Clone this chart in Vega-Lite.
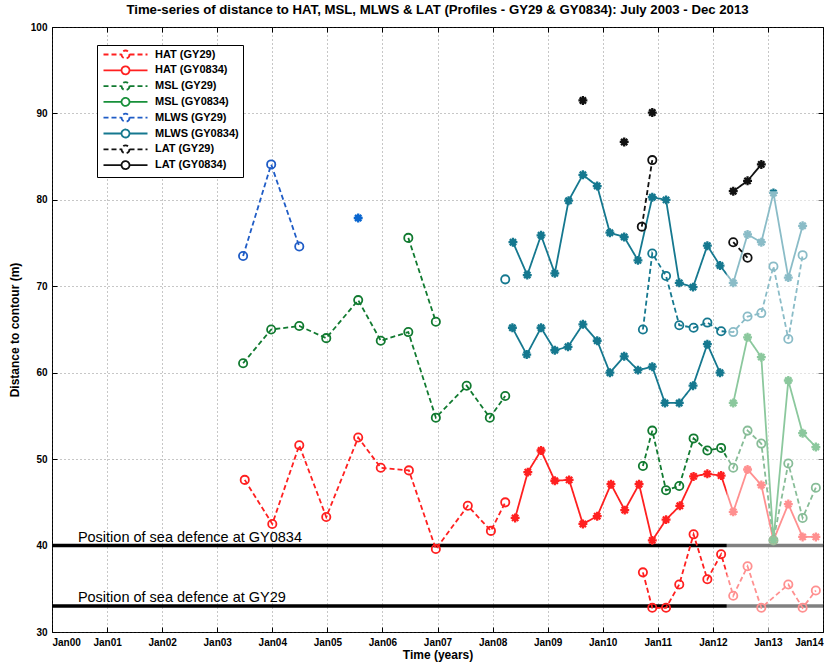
{
  "$schema": "https://vega.github.io/schema/vega-lite/v6.json",
  "width": 771,
  "height": 605,
  "autosize": {"type": "none"},
  "padding": {"left": 52, "top": 27, "right": 14, "bottom": 36},
  "background": "white",
  "title": {
    "text": "Time-series of distance to HAT, MSL, MLWS & LAT (Profiles - GY29 & GY0834): July 2003 - Dec 2013",
    "font": "Liberation Sans", "fontSize": 13.2, "fontWeight": "bold", "color": "black", "offset": 5, "anchor": "middle"
  },
  "config": {
    "view": {"stroke": "black", "strokeWidth": 1},
    "axis": {
      "domain": false, "grid": true, "gridColor": "#444", "gridDash": [1, 3], "gridOpacity": 0.6,
      "tickColor": "black", "tickSize": -5, "labelPadding": 10,
      "labelFont": "Liberation Sans", "labelFontWeight": "bold", "labelFontSize": 10, "labelColor": "black",
      "titleFont": "Liberation Sans", "titleFontWeight": "bold", "titleFontSize": 12, "titleColor": "black"
    },
    "legend": {
      "orient": "none", "legendX": 45, "legendY": 18,
      "fillColor": "white", "strokeColor": "black", "padding": 4,
      "labelFont": "Liberation Sans", "labelFontWeight": "bold", "labelFontSize": 11, "labelColor": "black",
      "rowPadding": -1.2, "symbolSize": 64, "symbolStrokeWidth": 1.8, "symbolOffset": 19, "labelOffset": 24,
      "symbolType": "M-5.5,0L-1,0M1,0L5.5,0M1,0A1,1,0,1,1,-1,0A1,1,0,1,1,1,0"
    }
  },
  "resolve": {"axis": {"x": "independent", "y": "independent"}},
  "datasets": {
    "marks": [
    {"series":"HAT (GY29)","seg":"a","year":2003.5,"value":47.6},
    {"series":"HAT (GY29)","seg":"a","year":2004.0,"value":42.5},
    {"series":"HAT (GY29)","seg":"a","year":2004.49,"value":51.6},
    {"series":"HAT (GY29)","seg":"a","year":2004.98,"value":43.3},
    {"series":"HAT (GY29)","seg":"a","year":2005.56,"value":52.5},
    {"series":"HAT (GY29)","seg":"a","year":2005.97,"value":49.0},
    {"series":"HAT (GY29)","seg":"a","year":2006.48,"value":48.7},
    {"series":"HAT (GY29)","seg":"a","year":2006.97,"value":39.6},
    {"series":"HAT (GY29)","seg":"a","year":2007.55,"value":44.6},
    {"series":"HAT (GY29)","seg":"a","year":2007.97,"value":41.7},
    {"series":"HAT (GY29)","seg":"a","year":2008.23,"value":45.0},
    {"series":"HAT (GY29)","seg":"b","year":2010.73,"value":36.9},
    {"series":"HAT (GY29)","seg":"b","year":2010.9,"value":32.8},
    {"series":"HAT (GY29)","seg":"b","year":2011.15,"value":32.8},
    {"series":"HAT (GY29)","seg":"b","year":2011.39,"value":35.5},
    {"series":"HAT (GY29)","seg":"b","year":2011.65,"value":41.3},
    {"series":"HAT (GY29)","seg":"b","year":2011.9,"value":36.1},
    {"series":"HAT (GY29)","seg":"b","year":2012.15,"value":39.0},
    {"series":"HAT (GY29)","seg":"b","year":2012.37,"value":34.2},
    {"series":"HAT (GY29)","seg":"b","year":2012.63,"value":37.6},
    {"series":"HAT (GY29)","seg":"b","year":2012.88,"value":32.8},
    {"series":"HAT (GY29)","seg":"b","year":2013.37,"value":35.5},
    {"series":"HAT (GY29)","seg":"b","year":2013.63,"value":32.8},
    {"series":"HAT (GY29)","seg":"b","year":2013.87,"value":34.8},
    {"series":"HAT (GY0834)","seg":"a","year":2008.41,"value":43.2},
    {"series":"HAT (GY0834)","seg":"a","year":2008.64,"value":48.5},
    {"series":"HAT (GY0834)","seg":"a","year":2008.88,"value":51.0},
    {"series":"HAT (GY0834)","seg":"a","year":2009.13,"value":47.5},
    {"series":"HAT (GY0834)","seg":"a","year":2009.39,"value":47.6},
    {"series":"HAT (GY0834)","seg":"a","year":2009.64,"value":42.5},
    {"series":"HAT (GY0834)","seg":"a","year":2009.9,"value":43.4},
    {"series":"HAT (GY0834)","seg":"a","year":2010.15,"value":47.1},
    {"series":"HAT (GY0834)","seg":"a","year":2010.4,"value":44.1},
    {"series":"HAT (GY0834)","seg":"a","year":2010.66,"value":47.1},
    {"series":"HAT (GY0834)","seg":"a","year":2010.9,"value":40.6},
    {"series":"HAT (GY0834)","seg":"a","year":2011.15,"value":43.0},
    {"series":"HAT (GY0834)","seg":"a","year":2011.4,"value":44.6},
    {"series":"HAT (GY0834)","seg":"a","year":2011.65,"value":48.0},
    {"series":"HAT (GY0834)","seg":"a","year":2011.9,"value":48.3},
    {"series":"HAT (GY0834)","seg":"a","year":2012.15,"value":48.1},
    {"series":"HAT (GY0834)","seg":"a","year":2012.37,"value":43.9},
    {"series":"HAT (GY0834)","seg":"a","year":2012.63,"value":48.8},
    {"series":"HAT (GY0834)","seg":"a","year":2012.88,"value":47.0},
    {"series":"HAT (GY0834)","seg":"a","year":2013.1,"value":40.6},
    {"series":"HAT (GY0834)","seg":"a","year":2013.37,"value":44.8},
    {"series":"HAT (GY0834)","seg":"a","year":2013.63,"value":41.0},
    {"series":"HAT (GY0834)","seg":"a","year":2013.87,"value":41.0},
    {"series":"MSL (GY29)","seg":"a","year":2003.47,"value":61.1},
    {"series":"MSL (GY29)","seg":"a","year":2003.98,"value":65.0},
    {"series":"MSL (GY29)","seg":"a","year":2004.49,"value":65.4},
    {"series":"MSL (GY29)","seg":"a","year":2004.98,"value":64.0},
    {"series":"MSL (GY29)","seg":"a","year":2005.56,"value":68.4},
    {"series":"MSL (GY29)","seg":"a","year":2005.97,"value":63.7},
    {"series":"MSL (GY29)","seg":"a","year":2006.47,"value":64.7},
    {"series":"MSL (GY29)","seg":"a","year":2006.97,"value":54.8},
    {"series":"MSL (GY29)","seg":"a","year":2007.53,"value":58.5},
    {"series":"MSL (GY29)","seg":"a","year":2007.95,"value":54.8},
    {"series":"MSL (GY29)","seg":"a","year":2008.23,"value":57.3},
    {"series":"MSL (GY29)","seg":"b","year":2006.47,"value":75.6},
    {"series":"MSL (GY29)","seg":"b","year":2006.97,"value":65.9},
    {"series":"MSL (GY29)","seg":"c","year":2010.73,"value":49.2},
    {"series":"MSL (GY29)","seg":"c","year":2010.9,"value":53.3},
    {"series":"MSL (GY29)","seg":"c","year":2011.15,"value":46.4},
    {"series":"MSL (GY29)","seg":"c","year":2011.39,"value":46.9},
    {"series":"MSL (GY29)","seg":"c","year":2011.65,"value":52.4},
    {"series":"MSL (GY29)","seg":"c","year":2011.9,"value":51.0},
    {"series":"MSL (GY29)","seg":"c","year":2012.15,"value":51.3},
    {"series":"MSL (GY29)","seg":"c","year":2012.37,"value":49.0},
    {"series":"MSL (GY29)","seg":"c","year":2012.63,"value":53.3},
    {"series":"MSL (GY29)","seg":"c","year":2012.88,"value":51.8},
    {"series":"MSL (GY29)","seg":"c","year":2013.1,"value":40.6},
    {"series":"MSL (GY29)","seg":"c","year":2013.37,"value":49.5},
    {"series":"MSL (GY29)","seg":"c","year":2013.63,"value":43.2},
    {"series":"MSL (GY29)","seg":"c","year":2013.87,"value":46.7},
    {"series":"MSL (GY0834)","seg":"a","year":2012.37,"value":56.5},
    {"series":"MSL (GY0834)","seg":"a","year":2012.63,"value":64.1},
    {"series":"MSL (GY0834)","seg":"a","year":2012.88,"value":61.8},
    {"series":"MSL (GY0834)","seg":"a","year":2013.1,"value":40.6},
    {"series":"MSL (GY0834)","seg":"a","year":2013.37,"value":59.1},
    {"series":"MSL (GY0834)","seg":"a","year":2013.63,"value":53.0},
    {"series":"MSL (GY0834)","seg":"a","year":2013.87,"value":51.4},
    {"series":"MLWS (GY29)","seg":"a","year":2003.47,"value":73.5},
    {"series":"MLWS (GY29)","seg":"a","year":2003.98,"value":84.1},
    {"series":"MLWS (GY29)","seg":"a","year":2004.49,"value":74.6},
    {"series":"MLWS (GY29)","seg":"l","year":2008.23,"value":70.8},
    {"series":"MLWS (GY29)","seg":"b","year":2010.73,"value":65.0},
    {"series":"MLWS (GY29)","seg":"b","year":2010.9,"value":73.8},
    {"series":"MLWS (GY29)","seg":"b","year":2011.15,"value":71.2},
    {"series":"MLWS (GY29)","seg":"b","year":2011.39,"value":65.5},
    {"series":"MLWS (GY29)","seg":"b","year":2011.65,"value":65.2},
    {"series":"MLWS (GY29)","seg":"b","year":2011.9,"value":65.8},
    {"series":"MLWS (GY29)","seg":"b","year":2012.15,"value":64.8},
    {"series":"MLWS (GY29)","seg":"b","year":2012.37,"value":64.7},
    {"series":"MLWS (GY29)","seg":"b","year":2012.63,"value":66.5},
    {"series":"MLWS (GY29)","seg":"b","year":2012.88,"value":66.9},
    {"series":"MLWS (GY29)","seg":"b","year":2013.1,"value":72.3},
    {"series":"MLWS (GY29)","seg":"b","year":2013.37,"value":63.9},
    {"series":"MLWS (GY29)","seg":"b","year":2013.63,"value":73.6},
    {"series":"MLWS (GY0834)","seg":"l","year":2005.56,"value":77.9},
    {"series":"MLWS (GY0834)","seg":"b","year":2008.37,"value":75.1},
    {"series":"MLWS (GY0834)","seg":"b","year":2008.63,"value":71.3},
    {"series":"MLWS (GY0834)","seg":"b","year":2008.88,"value":75.9},
    {"series":"MLWS (GY0834)","seg":"b","year":2009.13,"value":71.5},
    {"series":"MLWS (GY0834)","seg":"b","year":2009.38,"value":79.9},
    {"series":"MLWS (GY0834)","seg":"b","year":2009.64,"value":82.9},
    {"series":"MLWS (GY0834)","seg":"b","year":2009.9,"value":81.6},
    {"series":"MLWS (GY0834)","seg":"b","year":2010.13,"value":76.2},
    {"series":"MLWS (GY0834)","seg":"b","year":2010.39,"value":75.7},
    {"series":"MLWS (GY0834)","seg":"b","year":2010.64,"value":73.0},
    {"series":"MLWS (GY0834)","seg":"b","year":2010.9,"value":80.3},
    {"series":"MLWS (GY0834)","seg":"b","year":2011.15,"value":80.0},
    {"series":"MLWS (GY0834)","seg":"b","year":2011.39,"value":70.4},
    {"series":"MLWS (GY0834)","seg":"b","year":2011.64,"value":69.9},
    {"series":"MLWS (GY0834)","seg":"b","year":2011.9,"value":74.7},
    {"series":"MLWS (GY0834)","seg":"b","year":2012.13,"value":72.4},
    {"series":"MLWS (GY0834)","seg":"b","year":2012.37,"value":70.4},
    {"series":"MLWS (GY0834)","seg":"b","year":2012.63,"value":76.0},
    {"series":"MLWS (GY0834)","seg":"b","year":2012.88,"value":75.1},
    {"series":"MLWS (GY0834)","seg":"b","year":2013.1,"value":80.8},
    {"series":"MLWS (GY0834)","seg":"b","year":2013.37,"value":71.0},
    {"series":"MLWS (GY0834)","seg":"b","year":2013.63,"value":77.0},
    {"series":"MLWS (GY0834)","seg":"c","year":2008.36,"value":65.2},
    {"series":"MLWS (GY0834)","seg":"c","year":2008.62,"value":62.1},
    {"series":"MLWS (GY0834)","seg":"c","year":2008.88,"value":65.2},
    {"series":"MLWS (GY0834)","seg":"c","year":2009.13,"value":62.6},
    {"series":"MLWS (GY0834)","seg":"c","year":2009.37,"value":63.0},
    {"series":"MLWS (GY0834)","seg":"c","year":2009.64,"value":65.6},
    {"series":"MLWS (GY0834)","seg":"c","year":2009.9,"value":63.7},
    {"series":"MLWS (GY0834)","seg":"c","year":2010.13,"value":60.0},
    {"series":"MLWS (GY0834)","seg":"c","year":2010.39,"value":61.9},
    {"series":"MLWS (GY0834)","seg":"c","year":2010.64,"value":60.3},
    {"series":"MLWS (GY0834)","seg":"c","year":2010.9,"value":60.7},
    {"series":"MLWS (GY0834)","seg":"c","year":2011.13,"value":56.5},
    {"series":"MLWS (GY0834)","seg":"c","year":2011.39,"value":56.5},
    {"series":"MLWS (GY0834)","seg":"c","year":2011.64,"value":58.5},
    {"series":"MLWS (GY0834)","seg":"c","year":2011.9,"value":63.3},
    {"series":"MLWS (GY0834)","seg":"c","year":2012.13,"value":60.0},
    {"series":"LAT (GY29)","seg":"a","year":2010.71,"value":76.9},
    {"series":"LAT (GY29)","seg":"a","year":2010.9,"value":84.6},
    {"series":"LAT (GY29)","seg":"b","year":2012.37,"value":75.1},
    {"series":"LAT (GY29)","seg":"b","year":2012.63,"value":73.3},
    {"series":"LAT (GY0834)","seg":"l1","year":2009.64,"value":91.5},
    {"series":"LAT (GY0834)","seg":"l2","year":2010.39,"value":86.7},
    {"series":"LAT (GY0834)","seg":"l3","year":2010.9,"value":90.1},
    {"series":"LAT (GY0834)","seg":"b","year":2012.37,"value":81.0},
    {"series":"LAT (GY0834)","seg":"b","year":2012.63,"value":82.2},
    {"series":"LAT (GY0834)","seg":"b","year":2012.88,"value":84.1}
    ],
    "defences": [
      {"label": "Position of sea defence at GY0834", "level": 40, "start": 2000.47},
      {"label": "Position of sea defence at GY29", "level": 33, "start": 2000.47}
    ]
  },
  "layer": [
    {
      "data": {"name": "defences"},
      "mark": {"type": "rule", "color": "black", "strokeWidth": 3.5},
      "encoding": {
        "y": {"field": "level", "type": "quantitative",
              "scale": {"domain": [30, 100], "nice": false, "zero": false},
              "axis": {"title": "Distance to contour (m)", "values": [30,40,50,60,70,80,90,100], "titlePadding": 9}}
      }
    },
    {
      "data": {"name": "defences"},
      "mark": {"type": "text", "align": "left", "baseline": "alphabetic", "dy": -4, "font": "Liberation Sans", "fontSize": 14.5, "fill": "black"},
      "encoding": {
        "x": {"field": "start", "type": "quantitative",
              "scale": {"domain": [2000, 2014], "nice": false, "zero": false},
              "axis": {"title": "Time (years)", "values": [2000,2001,2002,2003,2004,2005,2006,2007,2008,2009,2010,2011,2012,2013,2014],
                       "labelExpr": "'Jan' + substring(toString(datum.value), 2)", "titlePadding": 2}},
        "y": {"field": "level", "type": "quantitative", "axis": null},
        "text": {"field": "label", "type": "nominal"}
      }
    },
    {
      "data": {"name": "marks"},
      "transform": [{"filter": {"not": {"field": "series", "oneOf": ["LAT (GY29)", "LAT (GY0834)"]}}}],
      "mark": {"type": "line", "strokeWidth": 1.8},
      "encoding": {
        "x": {"field": "year", "type": "quantitative", "axis": null},
        "y": {"field": "value", "type": "quantitative", "axis": null},
        "detail": {"field": "seg"},
        "order": {"field": "year", "type": "quantitative"},
        "color": {
          "condition": [
            {"test": "datum.series === 'MLWS (GY29)' && datum.year > 2008", "value": "#15788f"},
            {"test": "datum.series === 'MLWS (GY0834)' && datum.year < 2008", "value": "#0a66cf"}
          ],
          "field": "series", "type": "nominal",
          "scale": {
            "domain": ["HAT (GY29)","HAT (GY0834)","MSL (GY29)","MSL (GY0834)","MLWS (GY29)","MLWS (GY0834)","LAT (GY29)","LAT (GY0834)"],
            "range": ["#ff2020","#ff2020","#117a30","#17903a","#1f5cc6","#15788f","#111111","#111111"]
          },
          "legend": {"title": null, "symbolType": "M-5.5,0L-1,0M1,0L5.5,0M1,0A1,1,0,1,1,-1,0A1,1,0,1,1,1,0"}
        },
        "strokeDash": {
          "field": "series", "type": "nominal",
          "scale": {
            "domain": ["HAT (GY29)","HAT (GY0834)","MSL (GY29)","MSL (GY0834)","MLWS (GY29)","MLWS (GY0834)","LAT (GY29)","LAT (GY0834)"],
            "range": [[5,3],[1,0],[5,3],[1,0],[5,3],[1,0],[5,3],[1,0]]
          },
          "legend": {"title": null, "symbolType": "M-5.5,0L-1,0M1,0L5.5,0M1,0A1,1,0,1,1,-1,0A1,1,0,1,1,1,0"}
        }
      }
    },
    {
      "data": {"name": "marks"},
      "transform": [{"filter": {"field": "series", "oneOf": ["HAT (GY29)", "MSL (GY29)", "MLWS (GY29)"]}}],
      "mark": {"type": "point", "shape": "circle", "filled": false, "strokeWidth": 1.8, "size": 68, "opacity": 1},
      "encoding": {
        "x": {"field": "year", "type": "quantitative", "axis": null},
        "y": {"field": "value", "type": "quantitative", "axis": null},
        "color": {
          "condition": [
            {"test": "datum.series === 'MLWS (GY29)' && datum.year > 2008", "value": "#15788f"}
          ],
          "field": "series", "type": "nominal"
        }
      }
    },
    {
      "data": {"name": "marks"},
      "transform": [{"filter": {"field": "series", "oneOf": ["HAT (GY0834)", "MSL (GY0834)", "MLWS (GY0834)"]}}],
      "mark": {"type": "point", "shape": "M-1,0L1,0M0,-1L0,1M-0.7,-0.7L0.7,0.7M-0.7,0.7L0.7,-0.7", "filled": false, "strokeWidth": 2.3, "size": 80, "opacity": 1},
      "encoding": {
        "x": {"field": "year", "type": "quantitative", "axis": null},
        "y": {"field": "value", "type": "quantitative", "axis": null},
        "color": {
          "condition": [
            {"test": "datum.series === 'MLWS (GY0834)' && datum.year < 2008", "value": "#0a66cf"}
          ],
          "field": "series", "type": "nominal"
        }
      }
    },
    {
      "data": {"values": [{}]},
      "mark": {"type": "rect", "fill": "white", "opacity": 0.5},
      "encoding": {
        "x": {"datum": 2012.25, "type": "quantitative",
              "axis": {"orient": "top", "labels": false, "title": null, "grid": false, "values": [2000,2001,2002,2003,2004,2005,2006,2007,2008,2009,2010,2011,2012,2013,2014]}},
        "x2": {"datum": 2014},
        "y": {"datum": 30, "type": "quantitative",
              "axis": {"orient": "right", "labels": false, "title": null, "grid": false, "values": [30,40,50,60,70,80,90,100]}},
        "y2": {"datum": 81}
      }
    },
    {
      "data": {"name": "marks"},
      "transform": [{"filter": {"field": "series", "oneOf": ["LAT (GY29)", "LAT (GY0834)"]}}],
      "mark": {"type": "line", "strokeWidth": 1.8},
      "encoding": {
        "x": {"field": "year", "type": "quantitative", "axis": null},
        "y": {"field": "value", "type": "quantitative", "axis": null},
        "detail": {"field": "seg"},
        "order": {"field": "year", "type": "quantitative"},
        "color": {"field": "series", "type": "nominal"},
        "strokeDash": {"field": "series", "type": "nominal"}
      }
    },
    {
      "data": {"name": "marks"},
      "transform": [{"filter": {"field": "series", "equal": "LAT (GY29)"}}],
      "mark": {"type": "point", "shape": "circle", "filled": false, "strokeWidth": 1.8, "size": 68, "opacity": 1},
      "encoding": {
        "x": {"field": "year", "type": "quantitative", "axis": null},
        "y": {"field": "value", "type": "quantitative", "axis": null},
        "color": {"field": "series", "type": "nominal"}
      }
    },
    {
      "data": {"name": "marks"},
      "transform": [{"filter": {"field": "series", "equal": "LAT (GY0834)"}}],
      "mark": {"type": "point", "shape": "M-1,0L1,0M0,-1L0,1M-0.7,-0.7L0.7,0.7M-0.7,0.7L0.7,-0.7", "filled": false, "strokeWidth": 2.3, "size": 80, "opacity": 1},
      "encoding": {
        "x": {"field": "year", "type": "quantitative", "axis": null},
        "y": {"field": "value", "type": "quantitative", "axis": null},
        "color": {"field": "series", "type": "nominal"}
      }
    }
  ]
}
